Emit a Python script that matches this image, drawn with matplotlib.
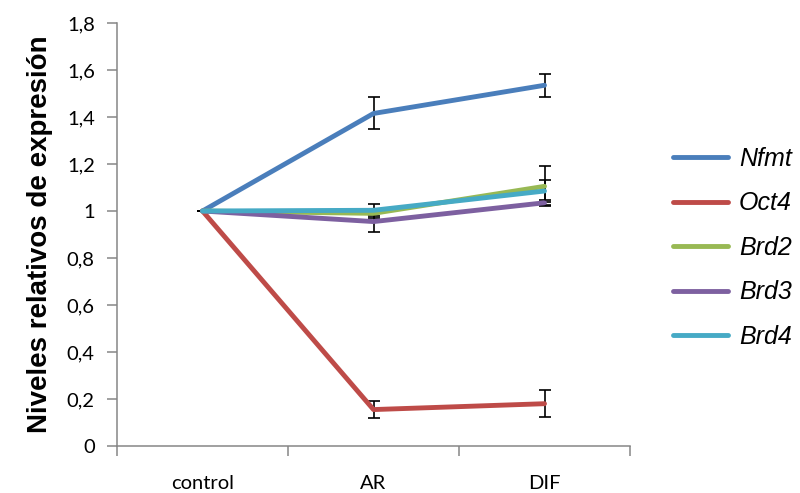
import matplotlib
matplotlib.use("Agg")
import matplotlib.pyplot as plt
import numpy as np

categories = ["control", "AR", "DIF"]
genes = ["Nfmt", "Oct4", "Brd2", "Brd3", "Brd4"]

nfmt = [1.0, 1.415, 1.535]
oct4 = [1.0, 0.155, 0.18]
brd2 = [1.0, 0.99, 1.105]
brd3 = [1.0, 0.955, 1.035]
brd4 = [1.0, 1.003, 1.085]

nfmt_err = [0.0, 0.068, 0.05]
oct4_err = [0.0, 0.035, 0.058]
brd2_err = [0.0, 0.02, 0.085]
brd3_err = [0.0, 0.045, 0.01]
brd4_err = [0.0, 0.025, 0.045]

colors = ["#4a7ebb", "#be4b48", "#98b954", "#7d60a0", "#46aac5"]

yticks = [0, 0.2, 0.4, 0.6, 0.8, 1.0, 1.2, 1.4, 1.6, 1.8]
ytick_labels = ["0", "0,2", "0,4", "0,6", "0,8", "1", "1,2", "1,4", "1,6", "1,8"]

series = [nfmt, oct4, brd2, brd3, brd4]
errors = [nfmt_err, oct4_err, brd2_err, brd3_err, brd4_err]

fig = plt.figure(figsize=(8, 4.93), dpi=100)
ax = fig.add_axes([117 / 800, 47 / 493, 513 / 800, 423 / 493])

x = np.arange(len(categories))
for vals, err, col, name in zip(series, errors, colors, genes):
    ax.errorbar(x, vals, yerr=err, fmt="none", ecolor="black", elinewidth=1.2,
                capsize=4.5, capthick=1.2, zorder=2)
    ax.plot(x, vals, color=col, lw=3.5, solid_capstyle="round", label=name, zorder=3)

ax.set_xlim(-0.5, 2.5)
ax.set_ylim(0, 1.8)
ax.set_yticks(yticks)
ax.set_yticklabels(ytick_labels, fontfamily="Lato", fontsize=14.5)
ax.set_xticks([-0.5, 0.5, 1.5, 2.5])
ax.set_xticklabels([])
ax.set_xticks(x, minor=True)
ax.set_xticklabels(categories, minor=True, fontfamily="Lato", fontsize=14.5)

gray = "#868686"
for s in ["top", "right"]:
    ax.spines[s].set_visible(False)
for s in ["left", "bottom"]:
    ax.spines[s].set_color(gray)
    ax.spines[s].set_linewidth(1.1)
ax.tick_params(axis="y", length=7, width=1.1, color=gray, pad=9)
ax.tick_params(axis="x", which="major", length=7, width=1.1, color=gray)
ax.tick_params(axis="x", which="minor", length=0, pad=21)

ax.set_ylabel("Niveles relativos de expresión", fontfamily="Liberation Sans",
              fontweight="bold", fontsize=20, labelpad=10)

fig.legend(loc="center left", bbox_to_anchor=(0.825, 0.497), frameon=False,
           prop={"family": "Liberation Sans", "style": "italic", "size": 18},
           handlelength=2.2, handletextpad=0.45, labelspacing=0.82, borderpad=0)

fig.savefig("out.png", dpi=100)
